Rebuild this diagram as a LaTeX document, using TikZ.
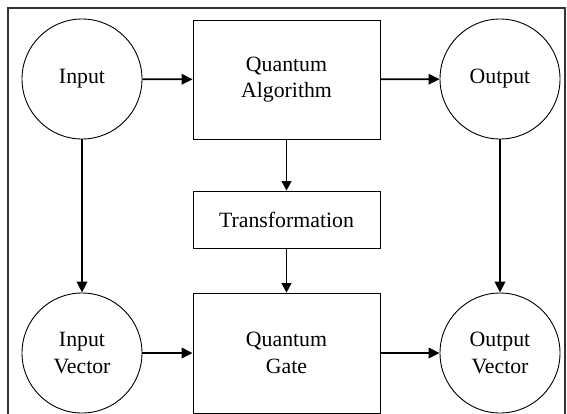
\documentclass[tikz,border=0pt]{standalone}
\usepackage{fontspec}
\setmainfont{Liberation Serif}
\usetikzlibrary{arrows.meta}
\begin{document}
\begin{tikzpicture}[x=1pt,y=-1pt,
  every node/.style={font=\fontsize{21.8}{26.5}\selectfont, align=center},
  ioball/.style={draw, circle, line width=0.9pt, minimum size=120pt, inner sep=0pt},
  procbox/.style={draw, rectangle, line width=0.9pt, inner sep=0pt},
  flow/.style={-{Triangle[length=11pt,width=10.5pt]}, line width=1.8pt},
  thinflow/.style={-{Triangle[length=9.5pt,width=10pt]}, line width=1pt},
  frame/.style={draw=black!80, line width=1.4pt}]
  \useasboundingbox (0,0) rectangle (567,413);
  % outer frame, open at the bottom
  \draw[frame] (8,420) -- (8,8) -- (565,8) -- (565,420);

  % inputs and outputs
  \node[ioball] (in)     at (82,79)  {Input};
  \node[ioball] (out)    at (500,79) {Output};
  \node[ioball] (invec)  at (82,353) {Input\\Vector};
  \node[ioball] (outvec) at (500,353) {Output\\Vector};

  % processing blocks
  \node[procbox, minimum width=187pt, minimum height=119pt] (alg)   at (286.5,79.5)  {Quantum\\Algorithm};
  \node[procbox, minimum width=187pt, minimum height=57pt]  (trans) at (286.5,219.5) {Transformation};
  \node[procbox, minimum width=187pt, minimum height=120pt] (gate)  at (286.5,353)   {Quantum\\Gate};

  % connectors
  \draw[flow] (in) -- (alg);
  \draw[flow] (alg) -- (out);
  \draw[flow] (in) -- (invec);
  \draw[flow] (out) -- (outvec);
  \draw[flow] (invec) -- (gate);
  \draw[flow] (gate) -- (outvec);
  \draw[thinflow] (alg) -- (trans);
  \draw[thinflow] (trans) -- (gate);
\end{tikzpicture}
\end{document}
